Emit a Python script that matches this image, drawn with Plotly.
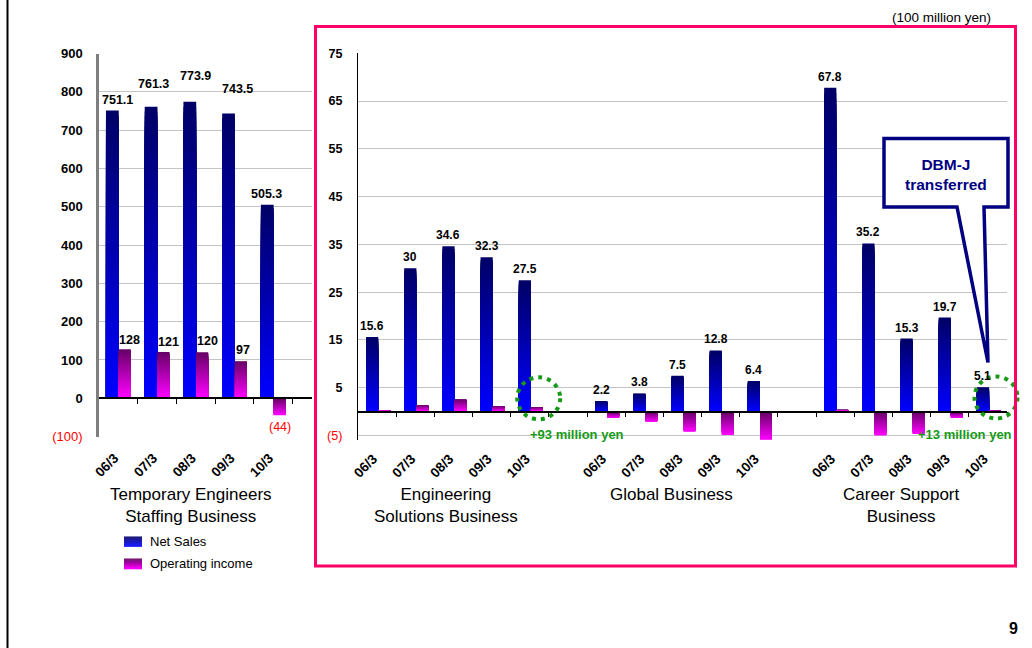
import plotly.graph_objects as go

W, H = 1032, 648

# ---------------- data (unit: 100 million yen) ----------------
periods = ["06/3", "07/3", "08/3", "09/3", "10/3"]

staffing_sales = [751.1, 761.3, 773.9, 743.5, 505.3]
staffing_income = [128, 121, 120, 97, -44]

solutions_sales = [15.6, 30, 34.6, 32.3, 27.5]
solutions_income = [0.3, 1.4, 2.6, 1.2, 0.93]

global_sales = [2.2, 3.8, 7.5, 12.8, 6.4]
global_income = [-1.3, -2.1, -4.2, -4.9, -5.9]

career_sales = [67.8, 35.2, 15.3, 19.7, 5.1]
career_income = [0.4, -5.0, -4.7, -1.3, 0.13]

left_ticks = [-100, 0, 100, 200, 300, 400, 500, 600, 700, 800, 900]
right_ticks = [-5, 5, 15, 25, 35, 45, 55, 65, 75]

# ---------------- styling ----------------
FONT = "Arial, Liberation Sans, sans-serif"
NAVY_TOP, BLUE_BOTTOM = (0, 0, 102), (0, 0, 255)
PURPLE_TOP, MAGENTA_BOTTOM = (102, 0, 102), (255, 0, 255)
GRID = "#C4C4C4"
RED = "#FF0000"
GREEN = "#169A16"
PINK = "#FF0066"
CALLOUT = "#000080"
N_BANDS = 60
LABEL_NUDGE = -0.1  # period labels sit slightly left of the category centre


def fx(px):
    return px / W


def fy(py):
    return 1 - py / H


def blend(c0, c1, t):
    r, g, b = (round(a + (b_ - a) * t) for a, b_ in zip(c0, c1))
    return f"rgb({r},{g},{b})"


def fmt(v):
    return f"({abs(v):g})" if v < 0 else f"{v:g}"


fig = go.Figure()


def gradient_bars(xs, values, offset, width, top_rgb, bottom_rgb, xaxis, yaxis):
    """Bars with a vertical colour gradient: progressively shorter bars are
    overlaid from the baseline, each one a step lighter/darker."""
    for k in range(N_BANDS):
        frac = 1 - k / N_BANDS
        t = k / (N_BANDS - 1)
        colors = [blend(top_rgb, bottom_rgb, t) if v >= 0 else blend(bottom_rgb, top_rgb, t)
                  for v in values]
        fig.add_trace(go.Bar(
            x=xs, y=[v * frac for v in values], base=0,
            offset=offset, width=width,
            marker=dict(color=colors, line=dict(width=0), opacity=1),
            xaxis=xaxis, yaxis=yaxis, hoverinfo="skip", showlegend=False,
        ))


# ---------------- left panel: Temporary Engineers Staffing ----------------
L_NS_OFF, L_NS_W = -0.32, 0.33
L_OI_OFF, L_OI_W = 0.01, 0.31
left_x = list(range(len(periods)))

gradient_bars(left_x, staffing_sales, L_NS_OFF, L_NS_W, NAVY_TOP, BLUE_BOTTOM, "x", "y")
gradient_bars(left_x, staffing_income, L_OI_OFF, L_OI_W, PURPLE_TOP, MAGENTA_BOTTOM, "x", "y")

# ---------------- right panel: three segments side by side ----------------
R_NS_OFF, R_NS_W = -0.29, 0.32
R_OI_OFF, R_OI_W = 0.03, 0.31
seg_x = [[0, 1, 2, 3, 4], [6, 7, 8, 9, 10], [12, 13, 14, 15, 16]]
seg_sales = [solutions_sales, global_sales, career_sales]
seg_income = [solutions_income, global_income, career_income]

right_x = sum(seg_x, [])
right_sales = sum(seg_sales, [])
right_income = sum(seg_income, [])
gradient_bars(right_x, right_sales, R_NS_OFF, R_NS_W, NAVY_TOP, BLUE_BOTTOM, "x2", "y2")
gradient_bars(right_x, right_income, R_OI_OFF, R_OI_W, PURPLE_TOP, MAGENTA_BOTTOM, "x2", "y2")

# carriers for the zero-line axes (tick marks at category boundaries)
fig.add_trace(go.Scatter(x=[], y=[], xaxis="x3", yaxis="y", showlegend=False))
fig.add_trace(go.Scatter(x=[], y=[], xaxis="x4", yaxis="y2", showlegend=False))

# ---------------- axes ----------------
L_DOM_Y = [fy(436.6), fy(53.5)]
L_RANGE = [-100, 900]
R_DOM_Y = [fy(440.3), fy(53.3)]
R_RANGE = [-6, 75]


def zero_pos(dom, rng):
    return dom[0] + (0 - rng[0]) / (rng[1] - rng[0]) * (dom[1] - dom[0])


def tick_text(vals):
    return [f"<span style='color:{RED};font-weight:normal'>{fmt(v)}</span>" if v < 0 else fmt(v)
            for v in vals]


label_font = dict(family=FONT, size=13.5, color="black", weight="bold")

fig.update_layout(
    template="none",
    width=W, height=H, margin=dict(l=0, r=0, t=0, b=0, pad=0, autoexpand=False),
    paper_bgcolor="white", plot_bgcolor="white",
    barmode="overlay", showlegend=False,
    font=dict(family=FONT, color="black"),
    xaxis=dict(domain=[fx(99), fx(312)], range=[-0.5, 5.0], anchor="y", automargin=False,
               tickmode="array", tickvals=[x + LABEL_NUDGE for x in left_x],
               ticktext=periods, tickangle=-45,
               ticks="", showgrid=False, zeroline=False, showline=False,
               tickfont=label_font, ticklabelstandoff=10, fixedrange=True),
    yaxis=dict(domain=L_DOM_Y, range=L_RANGE, anchor="x", automargin=False,
               tickmode="array", tickvals=left_ticks, ticktext=tick_text(left_ticks),
               showgrid=True, gridcolor=GRID, gridwidth=1.3, zeroline=False,
               showline=True, linecolor="#7F7F7F", linewidth=2.5, ticks="",
               tickfont=dict(family=FONT, size=13, color="black", weight="bold"),
               ticklabelstandoff=11, fixedrange=True),
    xaxis3=dict(overlaying="x", anchor="free", position=zero_pos(L_DOM_Y, L_RANGE),
                automargin=False,
                range=[-0.5, 5.0], tickmode="array", tickvals=[0.5, 1.5, 2.5, 3.5, 4.5],
                ticks="outside", ticklen=5, tickwidth=1, tickcolor="black",
                showticklabels=False, showgrid=False, zeroline=False,
                showline=True, linecolor="black", linewidth=1.5, fixedrange=True),
    xaxis2=dict(domain=[fx(358), fx(1007)], range=[-0.5, 16.5], anchor="y2", automargin=False,
                tickmode="array", tickvals=[x + LABEL_NUDGE for x in right_x],
                ticktext=periods * 3, tickangle=-45,
                ticks="", showgrid=False, zeroline=False, showline=False,
                tickfont=label_font, ticklabelstandoff=7, fixedrange=True),
    yaxis2=dict(domain=R_DOM_Y, range=R_RANGE, anchor="x2", automargin=False,
                tickmode="array", tickvals=right_ticks, ticktext=tick_text(right_ticks),
                showgrid=True, gridcolor=GRID, gridwidth=1.3, zeroline=False,
                showline=True, linecolor="black", linewidth=1.2, ticks="",
                tickfont=dict(family=FONT, size=12.5, color="black", weight="bold"),
                ticklabelstandoff=12, fixedrange=True),
    xaxis4=dict(overlaying="x2", anchor="free", position=zero_pos(R_DOM_Y, R_RANGE),
                automargin=False,
                range=[-0.5, 16.5], tickmode="array", tickvals=[i + 0.5 for i in range(17)],
                ticks="outside", ticklen=5, tickwidth=1, tickcolor="black",
                showticklabels=False, showgrid=False, zeroline=False,
                showline=True, linecolor="black", linewidth=1.5, fixedrange=True),
)

annotations = []

# value labels, left panel (pixel nudges keep labels clear of neighbours)
left_sales_dx = [5, 2.5, 6, 8.5, -1]
left_sales_dy = [11, 23, 26, 24, 11]
left_income_dx = [5, 5, 5, 2.5, 0]
left_income_dy = [9, 10, 11.5, 11, -11.5]

for i, v in enumerate(staffing_sales):
    annotations.append(dict(x=left_x[i] + L_NS_OFF + L_NS_W / 2, y=v, xref="x", yref="y",
                            text=fmt(v), showarrow=False, xanchor="center", yanchor="middle",
                            xshift=left_sales_dx[i], yshift=left_sales_dy[i],
                            font=dict(family=FONT, size=12.5, color="black", weight="bold")))
for i, v in enumerate(staffing_income):
    annotations.append(dict(x=left_x[i] + L_OI_OFF + L_OI_W / 2, y=v, xref="x", yref="y",
                            text=fmt(v), showarrow=False, xanchor="center", yanchor="middle",
                            xshift=left_income_dx[i], yshift=left_income_dy[i],
                            font=dict(family=FONT, size=12.5, color=RED if v < 0 else "black",
                                      weight="normal" if v < 0 else "bold")))

# value labels, right panel (net sales only)
for xs, vals in zip(seg_x, seg_sales):
    for x, v in zip(xs, vals):
        annotations.append(dict(x=x + R_NS_OFF + R_NS_W / 2, y=v, xref="x2", yref="y2",
                                text=fmt(v), showarrow=False, xanchor="center",
                                yanchor="middle", yshift=11,
                                font=dict(family=FONT, size=12, color="black", weight="bold")))

# segment titles
titles = [
    ("Temporary Engineers<br>Staffing Business", 191, 505.5),
    ("Engineering<br>Solutions Business", 446, 505.5),
    ("Global Business", 671.5, 495),
    ("Career Support<br>Business", 901, 505.5),
]
for text, px, py in titles:
    annotations.append(dict(x=fx(px), y=fy(py), xref="paper", yref="paper", text=text,
                            showarrow=False, xanchor="center", yanchor="middle",
                            font=dict(family=FONT, size=17, color="black")))

# legend
legend_items = [("Net Sales", NAVY_TOP, BLUE_BOTTOM, 536.5, 546.5),
                ("Operating income", PURPLE_TOP, MAGENTA_BOTTOM, 558.5, 569)]
shapes = []
for name, c_top, c_bot, y0, y1 in legend_items:
    n = 10
    for k in range(n):
        ya = y0 + (y1 - y0) * k / n
        yb = y0 + (y1 - y0) * (k + 1) / n
        shapes.append(dict(type="rect", xref="paper", yref="paper",
                           x0=fx(124), x1=fx(142), y0=fy(yb + 0.3), y1=fy(ya),
                           fillcolor=blend(c_top, c_bot, k / (n - 1)), line=dict(width=0)))
    annotations.append(dict(x=fx(148), y=fy((y0 + y1) / 2), xref="paper", yref="paper",
                            text=name, showarrow=False, xanchor="left", yanchor="middle",
                            font=dict(family=FONT, size=13, color="black")))

# unit note and page number
annotations.append(dict(x=fx(993), y=fy(17), xref="paper", yref="paper",
                        text="(100 million yen)", showarrow=False, xanchor="right",
                        yanchor="middle", font=dict(family=FONT, size=13.5, color="black")))
annotations.append(dict(x=fx(1020), y=fy(628), xref="paper", yref="paper", text="9",
                        showarrow=False, xanchor="right", yanchor="middle",
                        font=dict(family=FONT, size=16, color="black", weight="bold")))

# operating income notes
for text, px in [("+93 million yen", 577), ("+13 million yen", 965)]:
    annotations.append(dict(x=fx(px), y=fy(434), xref="paper", yref="paper",
                            text=text, showarrow=False, xanchor="center", yanchor="middle",
                            font=dict(family=FONT, size=13, color=GREEN, weight="bold")))
for cx, cy in [(538.7, 398.3), (996, 397.5)]:
    shapes.append(dict(type="circle", xref="paper", yref="paper",
                       x0=fx(cx - 21.5), x1=fx(cx + 21.5), y0=fy(cy + 21), y1=fy(cy - 21),
                       line=dict(color=GREEN, width=4, dash="4px,5px")))

# callout
pts = [(884, 138.5), (1008, 138.5), (1008, 207), (984, 207), (988, 362.5), (957, 207), (884, 207)]
path = "M " + " L ".join(f"{fx(x):.5f},{fy(y):.5f}" for x, y in pts) + " Z"
shapes.append(dict(type="path", xref="paper", yref="paper", path=path,
                   fillcolor="white", line=dict(color=CALLOUT, width=3.5)))
annotations.append(dict(x=fx(946), y=fy(174.5), xref="paper", yref="paper",
                        text="DBM-J<br>transferred", showarrow=False,
                        xanchor="center", yanchor="middle",
                        font=dict(family=FONT, size=15.5, color=CALLOUT, weight="bold")))

# frame around the three segments and the page edge line
shapes.append(dict(type="rect", xref="paper", yref="paper",
                   x0=fx(315.5), x1=fx(1015.5), y0=fy(566), y1=fy(26.5),
                   line=dict(color=PINK, width=3)))
shapes.append(dict(type="line", xref="paper", yref="paper",
                   x0=fx(7.5), x1=fx(7.5), y0=0, y1=1, line=dict(color="black", width=2)))

fig.update_layout(annotations=annotations, shapes=shapes)

fig.write_html("out.html")
